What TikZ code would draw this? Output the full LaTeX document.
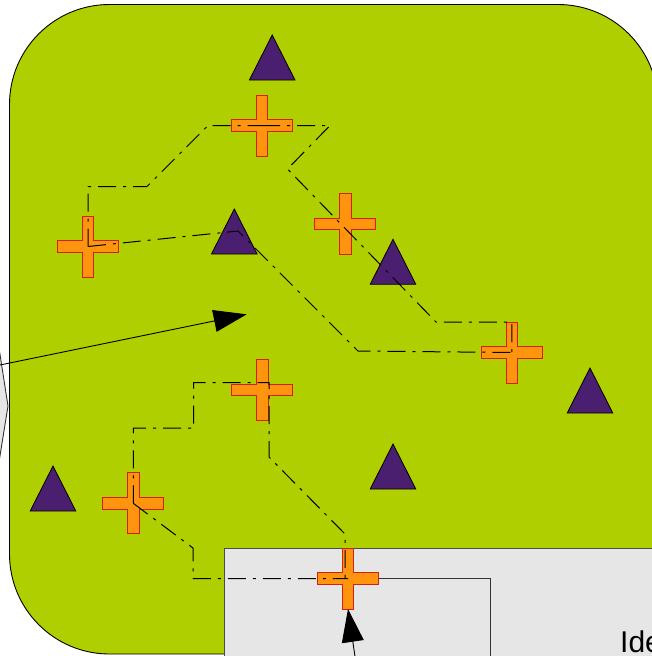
\documentclass[tikz,border=0pt]{standalone}
\usepackage{fontspec}
\setmainfont{Liberation Sans}
\usetikzlibrary{arrows.meta}
\definecolor{leaf}{RGB}{176,207,0}
\definecolor{plum}{RGB}{75,31,112}
\definecolor{tang}{RGB}{255,149,14}
\definecolor{rim}{RGB}{214,30,20}
\definecolor{panel}{RGB}{230,230,230}
\begin{document}
\begin{tikzpicture}[x=1pt,y=-1pt,
  crossstyle/.style={fill=tang,draw=rim,line width=0.9pt},
  trianglestyle/.style={fill=plum,draw=black,line width=0.8pt},
  route/.style={draw=black,line width=1pt,dash pattern=on 18pt off 7pt on 3pt off 7pt},
  bigarrow/.style={draw=black,line width=0.9pt,-{Triangle[length=33pt,width=22pt]}},
  plusmark/.pic={
    \filldraw[crossstyle] (-5.75,-30.5) -- (5.75,-30.5) -- (5.75,-5.75) -- (30.5,-5.75)
      -- (30.5,5.75) -- (5.75,5.75) -- (5.75,30.5) -- (-5.75,30.5) -- (-5.75,5.75)
      -- (-30.5,5.75) -- (-30.5,-5.75) -- (-5.75,-5.75) -- cycle;
    \coordinate (-c) at (0,0);
    \coordinate (-s) at (0,30.5);
  },
  trimark/.pic={
    \filldraw[trianglestyle] (0,-22.5) -- (22.8,22.5) -- (-22.8,22.5) -- cycle;
    \coordinate (-c) at (0,0);
  }
]
\useasboundingbox (0,0) rectangle (652,656);
\begin{scope}
\clip (0,0) rectangle (652,656);
% green area
\draw[fill=leaf,line width=0.9pt,rounded corners=100pt] (9.5,4.5) rectangle (658,654);
% grey panel
\draw[fill=panel,draw=black!70,line width=0.9pt] (224,548) rectangle (720,720);
\draw[draw=black!80,line width=0.9pt] (348,578.5) -- (490.5,578.5) -- (490.5,720);
% left shape
\filldraw[fill=panel,draw=black!80,line width=0.9pt] (-30,130) -- (-1,348) -- (8,406) -- (-1,462) -- (-30,680) -- cycle;
\coordinate (leftsrc) at (-20,369.1);
% triangles
\pic (t1) at (272.2,57.5) {trimark};
\pic (t2) at (234.3,231.5) {trimark};
\pic (t3) at (393,261.8) {trimark};
\pic (t4) at (590,390.5) {trimark};
\pic (t5) at (393,466.5) {trimark};
\pic (t6) at (53,488.5) {trimark};
% crosses
\pic (p1) at (262,125.5) {plusmark};
\pic (p2) at (88,246.5) {plusmark};
\pic (p3) at (345.3,224) {plusmark};
\pic (p4) at (511.8,352.5) {plusmark};
\pic (p5) at (262.3,390) {plusmark};
\pic (p6) at (133.3,503.3) {plusmark};
\pic (p7) at (348,578.5) {plusmark};
% routes
\draw[route] (p2-c) -- (88,186.5) -- (147,186.5) -- (208,125.5) -- (p1-c);
\draw[route] (p1-c) -- (330,125.5) -- (287.5,169) -- (436,322) -- (511.8,322) -- (p4-c);
\draw[route] (p2-c) -- (238,231) -- (358,351) -- (p4-c);
\draw[route] (p6-c) -- (133.3,428) -- (193.5,428) -- (193.5,382.5) -- (269,382.5) -- (269,457) -- (345,534) -- (345,578.5) -- (p7-c);
\draw[route] (p6-c) -- (193,548) -- (193,578.5) -- (p7-c);
% arrows
\draw[bigarrow] (leftsrc) -- (246.7,314.3);
\coordinate (bottomsrc) at (357,670);
\draw[bigarrow] (bottomsrc) -- (p7-s);
% text
\node[anchor=base west,inner sep=0pt,font=\fontsize{30}{36}\selectfont] (label) at (620,652) {Ide};
\end{scope}
\end{tikzpicture}
\end{document}
